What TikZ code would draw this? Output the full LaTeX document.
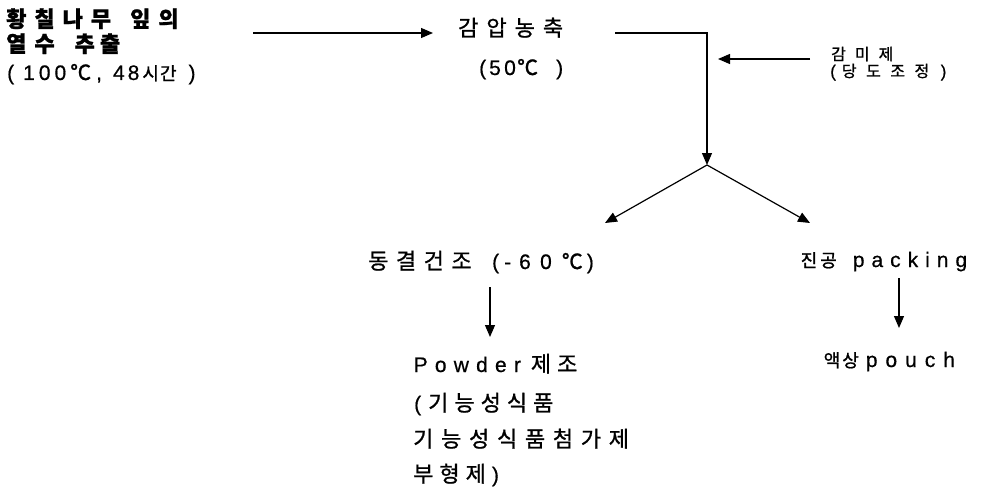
\documentclass[tikz,border=0pt]{standalone}
\usepackage{fontspec}
\setmainfont{Liberation Sans}[FakeBold=0.6]
\newfontfamily\krfont{Noto Sans CJK KR}[FakeBold=1]
\usetikzlibrary{arrows.meta}
\def\LSgap{0pt}
\def\LSloop#1{\ifx#1\relax\else#1\kern\LSgap\expandafter\LSloop\fi}
\newcommand\LS[2]{\def\LSgap{#2}\LSloop#1\relax}
\def\ksz{22}
\newcommand\K[2][6]{{\krfont\fontsize{\ksz}{\ksz}\selectfont\LS{#2}{#1pt}}}
\newcommand\E[2][7]{{\LS{#2}{#1pt}}}
\newcommand\Cel{{\krfont\fontsize{21}{21}\selectfont ℃}}
\newcommand\sz[1]{\fontsize{#1}{#1}\selectfont}
\tikzset{
  txt/.style={inner sep=0pt, anchor=base west, font=\sz{21}\def\ksz{22}},
  small/.style={txt, font=\sz{17}\def\ksz{16}},
  conn/.style={line width=1.2pt, black},
  arr/.style={conn, -{Triangle[length=12pt,width=10pt]}}
}
\begin{document}
\begin{tikzpicture}[x=1pt,y=-1pt]
\useasboundingbox[fill=white] (0,0) rectangle (982,492);
% source
\node[txt] (src1) at (6,27) {\bfseries\K[8]{황칠나무}\hspace{11pt}\K[8]{잎의}};
\node[txt] (src2) at (6,52) {\bfseries\K[8]{열수}\hspace{12pt}\K[5]{추출}};
\node[txt] (src3) at (7,80) {\E[9]{(}\E[4]{100}\Cel\kern5pt\E[11]{,}\E[3]{48}{\def\ksz{18}\K[1]{시}\K[12]{간}}\E{)}};
% concentration
\node[txt] (conc) at (458,36) {\K[8]{감압농축}};
\node[txt] (conc2) at (479,75) {\E[3]{(}\E[3.3]{50}\kern-2pt\Cel\kern18pt\E{)}};
% sweetener
\node[small] (sw1) at (831,60) {\K[9]{감미제}};
\node[small] (sw2) at (830,77) {\E[6]{(}\K[9.5]{당도조}\K[11.5]{정}\E{)}};
% branches
\node[txt] (dry) at (368,269) {\K[7.5]{동결건}\K[20.5]{조}\E[5]{(}\E[8]{-}\E[9.3]{6}\E[10]{0}\Cel\kern4pt\E{)}};
\node[txt] (vac) at (800.5,267) {{\def\ksz{18}\K[3]{진}\K[16]{공}}\E[7]{packing}};
% results
\node[txt] (pow1) at (413.5,372) {\E[7.2]{Powde}\E[10]{r}\K[6]{제조}};
\node[txt] (pow2) at (414,411) {\E[7]{(}\K[6]{기능성식품}};
\node[txt] (pow3) at (413,447) {\K[7.7]{기능성식품첨가제}};
\node[txt] (pow4) at (413,482) {\K[6]{부형제}\E{)}};
\node[txt] (pouch) at (823.5,367) {{\def\ksz{18}\K[2]{액}\K[7]{상}}\E[8]{pouch}};
% connector points
\coordinate (a1s) at (253,33);
\coordinate (a1e) at (433,33);
\coordinate (c0) at (615,33);
\coordinate (c1) at (707,33);
\coordinate (split) at (707,165);
\coordinate (sws) at (810,59);
\coordinate (swe) at (718,59);
\coordinate (bl) at (605,223);
\coordinate (br) at (810,223);
\coordinate (d1s) at (490,287);
\coordinate (d1e) at (490,337);
\coordinate (d2s) at (899,278);
\coordinate (d2e) at (899,328);
% connectors
\draw[arr] (a1s) -- (a1e);
\draw[arr] (c0) -- (c1) -- (split);
\draw[arr] (sws) -- (swe);
\draw[arr] (split) -- (bl);
\draw[arr] (split) -- (br);
\draw[arr] (d1s) -- (d1e);
\draw[arr] (d2s) -- (d2e);
\end{tikzpicture}
\end{document}
